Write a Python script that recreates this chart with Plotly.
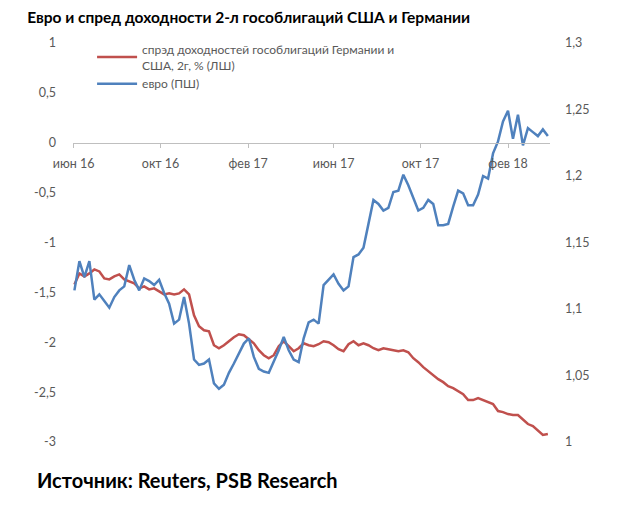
import pandas as pd
import plotly.graph_objects as go

# weekly readings, June 2016 - March 2018
spread = [
    -1.42, -1.31, -1.34, -1.31, -1.27, -1.29, -1.36, -1.37, -1.34, -1.32,
    -1.37, -1.39, -1.41, -1.46, -1.44, -1.47, -1.46, -1.49, -1.52, -1.51,
    -1.52, -1.51, -1.47, -1.52, -1.73, -1.84, -1.88, -1.89, -2.03, -2.06,
    -2.03, -1.99, -1.95, -1.92, -1.93, -1.97, -2.01, -2.08, -2.13, -2.16,
    -2.13, -2.04, -1.99, -2.04, -2.09, -2.06, -2.01, -2.03, -2.04, -2.02,
    -1.99, -2.00, -2.03, -2.07, -2.09, -2.02, -1.99, -2.03, -2.01, -2.03,
    -2.06, -2.08, -2.06, -2.07, -2.08, -2.09, -2.08, -2.10, -2.16, -2.20,
    -2.25, -2.29, -2.33, -2.37, -2.40, -2.44, -2.46, -2.49, -2.52, -2.58,
    -2.58, -2.56, -2.58, -2.60, -2.62, -2.69, -2.70, -2.72, -2.73, -2.73,
    -2.78, -2.82, -2.84, -2.89, -2.93, -2.92,
]
euro = [
    1.114, 1.136, 1.124, 1.136, 1.107, 1.111, 1.106, 1.101, 1.109, 1.114,
    1.117, 1.133, 1.122, 1.114, 1.123, 1.121, 1.118, 1.122, 1.112, 1.104,
    1.089, 1.092, 1.109, 1.089, 1.062, 1.058, 1.059, 1.062, 1.044, 1.040,
    1.043, 1.052, 1.059, 1.067, 1.074, 1.078, 1.064, 1.055, 1.053, 1.052,
    1.060, 1.069, 1.079, 1.069, 1.062, 1.060, 1.078, 1.090, 1.092, 1.089,
    1.118, 1.122, 1.126, 1.119, 1.114, 1.117, 1.139, 1.141, 1.146, 1.164,
    1.182, 1.179, 1.174, 1.176, 1.188, 1.189, 1.201, 1.193, 1.183, 1.174,
    1.176, 1.182, 1.179, 1.163, 1.163, 1.164, 1.177, 1.189, 1.187, 1.178,
    1.178, 1.186, 1.200, 1.198, 1.217, 1.226, 1.241, 1.249, 1.228, 1.246,
    1.223, 1.236, 1.233, 1.230, 1.235, 1.230,
]
dates = pd.date_range("2016-06-02", periods=len(euro), freq="7D")

x_ticks = ["2016-06-01", "2016-10-01", "2017-02-01", "2017-06-01", "2017-10-01", "2018-02-01"]
x_labels = ["июн 16", "окт 16", "фев 17", "июн 17", "окт 17", "фев 18"]
left_ticks = [1, 0.5, 0, -0.5, -1, -1.5, -2, -2.5, -3]
left_labels = ["1", "0,5", "0", "-0,5", "-1", "-1,5", "-2", "-2,5", "-3"]
right_ticks = [1.3, 1.25, 1.2, 1.15, 1.1, 1.05, 1.0]
right_labels = ["1,3", "1,25", "1,2", "1,15", "1,1", "1,05", "1"]

font = "Lato"
grey = "#595959"

fig = go.Figure()
fig.add_trace(go.Scatter(
    x=dates, y=spread, mode="lines", yaxis="y",
    name="спрэд доходностей гособлигаций Германии и<br>США, 2г, % (ЛШ)",
    line=dict(color="#C0504D", width=2.5),
))
fig.add_trace(go.Scatter(
    x=dates, y=euro, mode="lines", yaxis="y2",
    name="евро (ПШ)",
    line=dict(color="#4F81BD", width=2.5),
))

# the page body adds an 8px offset, margins compensate for it
fig.update_layout(
    width=640, height=522,
    margin=dict(l=65, r=98, t=35, b=88),
    paper_bgcolor="white", plot_bgcolor="white",
    font=dict(family=font, size=12.5, color=grey),
    title=dict(
        text="<b>Евро и спред доходности 2-л гособлигаций США и Германии</b>",
        x=0.03, xanchor="left", y=0.9808, yanchor="middle",
        font=dict(family=font, size=15.5, color="black"),
    ),
    showlegend=True,
    legend=dict(
        x=0.04, y=1.02, xanchor="left", yanchor="top",
        bgcolor="rgba(0,0,0,0)", font=dict(size=12, color=grey),
        tracegroupgap=0, itemwidth=40,
    ),
    xaxis=dict(
        type="date", range=["2016-05-31", "2018-04-01"],
        anchor="free", position=0.75,
        showline=True, linecolor="#BFBFBF", linewidth=1,
        ticks="outside", ticklen=4, tickcolor="#BFBFBF",
        ticklabelstandoff=5,
        tickvals=x_ticks, ticktext=x_labels,
        showgrid=False, zeroline=False,
    ),
    yaxis=dict(
        range=[-3, 1], tickvals=left_ticks, ticktext=left_labels,
        showgrid=False, zeroline=False, showline=False,
        ticklabelstandoff=16,
    ),
    yaxis2=dict(
        range=[1.0, 1.3], overlaying="y", side="right",
        tickvals=right_ticks, ticktext=right_labels,
        showgrid=False, zeroline=False, showline=False,
        ticklabelstandoff=14,
    ),
    annotations=[dict(
        text="<b>Источник: Reuters, PSB Research</b>",
        xref="paper", yref="paper", x=-0.08, y=-0.095,
        xanchor="left", yanchor="middle", showarrow=False,
        font=dict(family=font, size=20, color="black"),
    )],
)

fig.write_html("out.html")
